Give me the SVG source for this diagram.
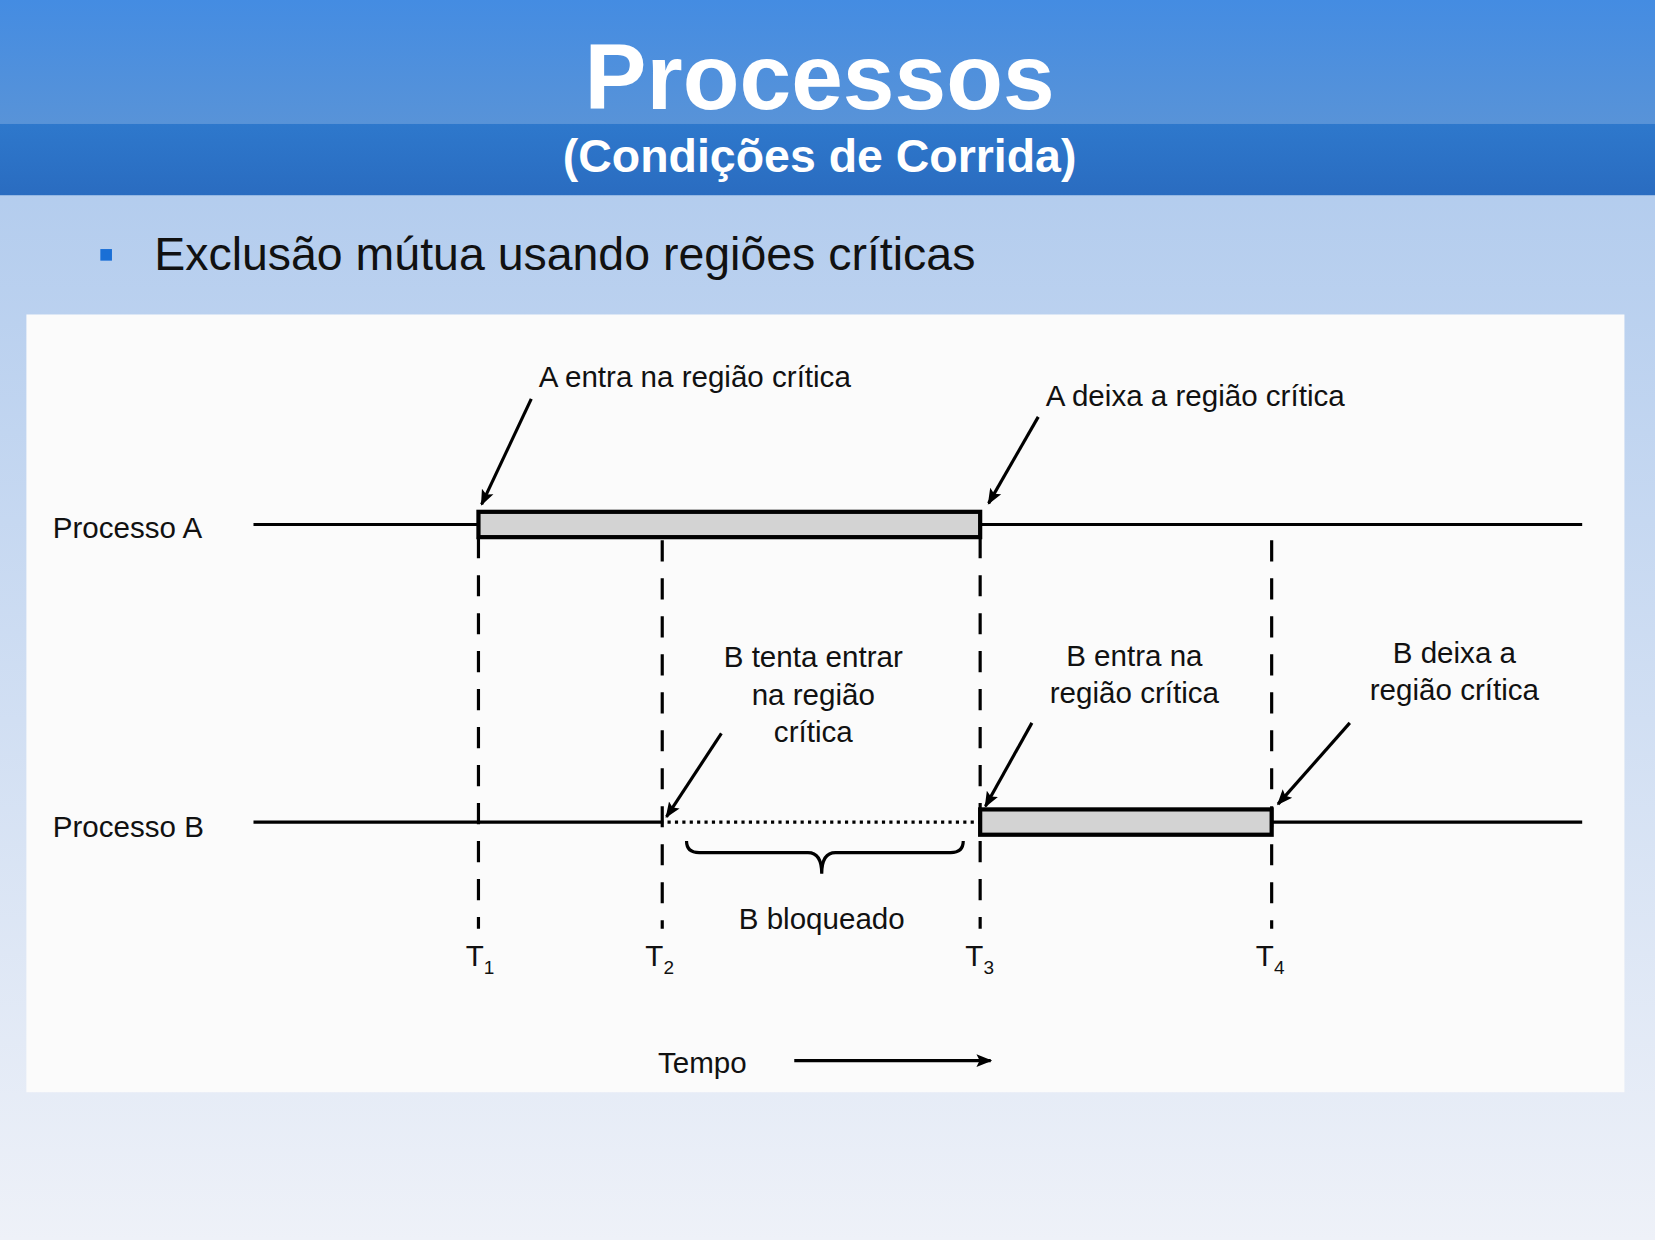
<svg xmlns="http://www.w3.org/2000/svg" width="1655" height="1240" viewBox="0 0 1655 1240">
<defs>
<linearGradient id="bg" x1="0" y1="0" x2="0" y2="1"><stop offset="0" stop-color="#a9c6ec"/><stop offset="1" stop-color="#eef1f8"/></linearGradient>
<linearGradient id="hd" x1="0" y1="0" x2="0" y2="1"><stop offset="0" stop-color="#448ce2"/><stop offset="1" stop-color="#5893d8"/></linearGradient>
<linearGradient id="hd2" x1="0" y1="0" x2="0" y2="1"><stop offset="0" stop-color="#2e78cc"/><stop offset="1" stop-color="#2a6cc0"/></linearGradient>
<marker id="ah" viewBox="0 0 10 10" refX="9" refY="5" markerWidth="5" markerHeight="5" orient="auto"><path d="M0,1 L10,5 L0,9 L2,5 z" fill="#000"/></marker>
<style>
.t{font-family:"Liberation Sans",Arial,sans-serif;fill:#111;font-size:28px}
.c{text-anchor:middle}
.ln{stroke:#000;stroke-width:3;fill:none}
.ds{stroke:#000;stroke-width:3;stroke-dasharray:20 16;fill:none}
.bar{fill:#d3d3d3;stroke:#000;stroke-width:4}
.ar{stroke:#000;stroke-width:3;fill:none;marker-end:url(#ah)}
</style>
</defs>
<g transform="scale(1.0562 1.0553)">
<rect width="1567" height="1175" fill="url(#bg)"/>
<rect width="1567" height="117" fill="url(#hd)"/>
<rect y="117" width="1567" height="68" fill="url(#hd2)"/>
<text x="776" y="103" font-family="Liberation Sans,Arial,sans-serif" font-weight="bold" font-size="88" fill="#fff" text-anchor="middle">Processos</text>
<text x="776" y="163" font-family="Liberation Sans,Arial,sans-serif" font-weight="bold" font-size="44" fill="#fff" text-anchor="middle">(Condições de Corrida)</text>
<rect x="95" y="236" width="11" height="11" fill="#1a6fd6"/>
<text x="146" y="256" font-family="Liberation Sans,Arial,sans-serif" font-size="44" fill="#111">Exclusão mútua usando regiões críticas</text>
<rect x="25" y="298" width="1513" height="737" fill="#fbfbfb"/>
<g id="connectors">
<path class="ln" d="M240,497 H453 M928,497 H1498"/>
<path class="ln" d="M240,779 H628 M1204,779 H1498"/>
<path d="M632,779 H928" stroke="#000" stroke-width="3" stroke-dasharray="3 4"/>
<path class="ds" d="M453,509 V880 M627,512 V880 M928,509 V880 M1204,512 V880"/>
<path class="ar" d="M503,378 L456,478"/>
<path class="ar" d="M983,395 L936,477"/>
<path class="ar" d="M683,695 L631,774"/>
<path class="ar" d="M977,685 L933,764"/>
<path class="ar" d="M1278,685 L1210,762"/>
<path class="ln" stroke-width="2.5" d="M650,797 Q650,808 662,808 H765 Q778,808 778,828 Q778,808 791,808 H900 Q912,808 912,797"/>
<path class="ar" d="M752,1005 H938"/>
</g>
<g id="barA"><rect class="bar" x="453" y="485" width="475" height="24"/></g>
<g id="barB"><rect class="bar" x="928" y="767" width="276" height="24"/></g>
<g id="labels">
<text class="t" x="50" y="510">Processo A</text>
<text class="t" x="50" y="793">Processo B</text>
<text class="t" x="510" y="367">A entra na região crítica</text>
<text class="t" x="990" y="385">A deixa a região crítica</text>
<text class="t c" x="770" y="632">B tenta entrar</text>
<text class="t c" x="770" y="668">na região</text>
<text class="t c" x="770" y="703">crítica</text>
<text class="t c" x="1074" y="631">B entra na</text>
<text class="t c" x="1074" y="666">região crítica</text>
<text class="t c" x="1377" y="628">B deixa a</text>
<text class="t c" x="1377" y="663">região crítica</text>
<text class="t c" x="778" y="880">B bloqueado</text>
<text class="t" x="623" y="1017">Tempo</text>
<text class="t" x="441" y="915">T<tspan font-size="18" dy="8">1</tspan></text>
<text class="t" x="611" y="915">T<tspan font-size="18" dy="8">2</tspan></text>
<text class="t" x="914" y="915">T<tspan font-size="18" dy="8">3</tspan></text>
<text class="t" x="1189" y="915">T<tspan font-size="18" dy="8">4</tspan></text>
</g>
</g>
</svg>
